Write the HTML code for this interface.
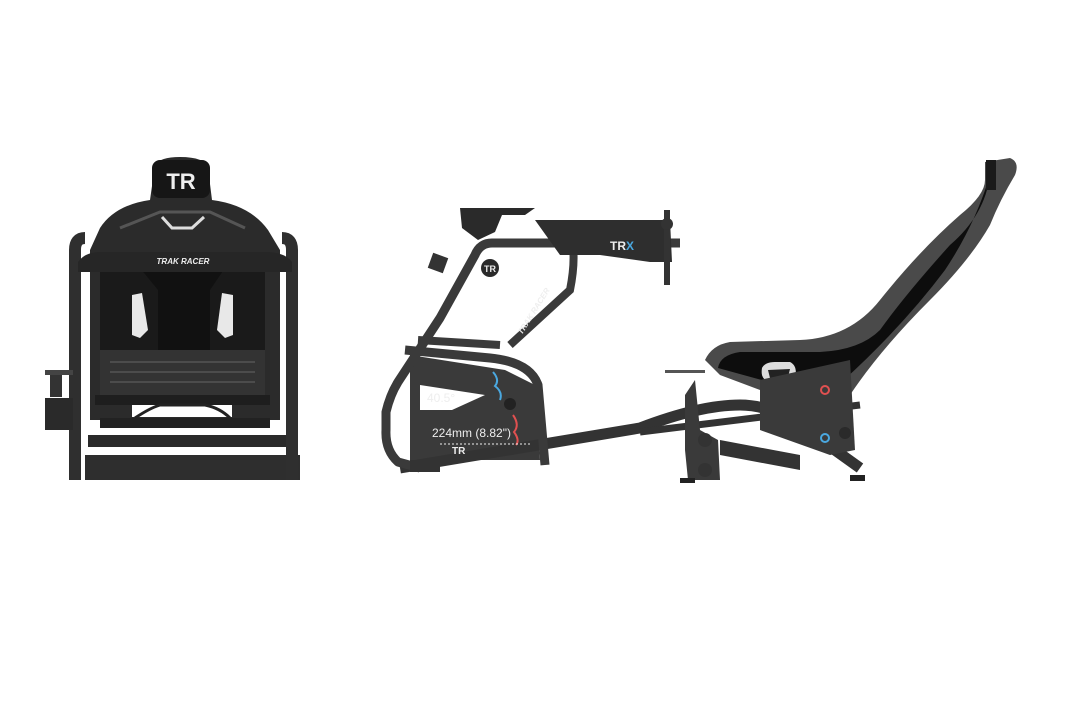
<!DOCTYPE html>
<html><head><meta charset="utf-8"><style>
html,body{margin:0;padding:0;background:#fff;width:1080px;height:720px;overflow:hidden}
svg{display:block}
text{font-family:"Liberation Sans",sans-serif}
</style></head><body>
<svg width="1080" height="720" viewBox="0 0 1080 720" xmlns="http://www.w3.org/2000/svg">
<rect width="1080" height="720" fill="#fff"/>
<!-- FRONT VIEW -->
<g>
  <!-- seat shell -->
  <path d="M155,165 Q160,157 180,157 Q205,157 208,168 L212,200 Q250,205 268,230 L280,250 L280,420 L90,420 L90,250 L100,228 Q115,205 150,200 Z" fill="#2b2b2b"/>
  <rect x="152" y="160" width="58" height="38" rx="8" fill="#161616"/>
  <text x="181" y="189" font-size="22" font-weight="bold" fill="#eee" text-anchor="middle">TR</text>
  <!-- top bracket -->
  <path d="M120,228 L160,212 L210,212 L245,228" stroke="#555" stroke-width="3" fill="none"/>
  <path d="M162,217 L172,228 L192,228 L204,217" stroke="#ddd" stroke-width="3" fill="none"/>
  <!-- seat back -->
  <rect x="100" y="268" width="165" height="90" fill="#1a1a1a"/>
  <path d="M140,268 L225,268 L210,290 L210,350 L158,350 L158,290 Z" fill="#111"/>
  <path d="M132,295 L142,293 L148,330 L140,338 L132,335 Z" fill="#e8e8e8"/>
  <path d="M222,293 L233,295 L233,335 L225,338 L217,330 Z" fill="#e8e8e8"/>
  <!-- seat base -->
  <rect x="100" y="350" width="165" height="45" fill="#333"/>
  <g stroke="#555" stroke-width="1.5"><line x1="110" y1="362" x2="255" y2="362"/><line x1="110" y1="372" x2="255" y2="372"/><line x1="110" y1="382" x2="255" y2="382"/></g>
  <rect x="95" y="395" width="175" height="10" fill="#1e1e1e"/>
  <rect x="132" y="405" width="100" height="12" fill="#fff"/>
  <path d="M135,418 Q150,408 160,405 L205,405 Q220,408 230,418" stroke="#222" stroke-width="3" fill="none"/>
  <rect x="100" y="418" width="170" height="10" fill="#222"/>
  <rect x="88" y="435" width="200" height="12" fill="#2a2a2a"/>
  <rect x="85" y="455" width="215" height="25" fill="#2e2e2e"/>
  <!-- uprights -->
  <path d="M75,480 L75,250 Q75,238 85,238" stroke="#2f2f2f" stroke-width="12" fill="none"/>
  <path d="M292,480 L292,250 Q292,238 282,238" stroke="#2f2f2f" stroke-width="12" fill="none"/>
  <!-- top crossbar -->
  <path d="M78,262 Q85,252 100,252 L265,252 Q285,252 292,262 L292,272 L78,272 Z" fill="#262626"/>
  <text x="183" y="264" font-size="8" font-weight="bold" font-style="italic" fill="#eee" text-anchor="middle">TRAK RACER</text>
  <!-- shifter mount -->
  <rect x="45" y="370" width="28" height="5" fill="#444"/>
  <rect x="50" y="375" width="12" height="22" fill="#333"/>
  <rect x="45" y="398" width="28" height="32" fill="#2a2a2a"/>
</g>
<!-- SIDE VIEW -->
<g>
  <!-- front frame plate -->
  <path d="M410,355 L505,370 L535,385 L540,460 L410,460 Z" fill="#3a3a3a"/>
  <path d="M420,385 L485,395 L452,410 L420,410 Z" fill="#fff"/>
  <!-- base tubes -->
  <path d="M400,468 L640,428 Q700,405 740,405 Q770,405 800,425 L860,468" stroke="#333" stroke-width="11" fill="none" stroke-linejoin="round"/>
  <path d="M640,432 L860,405" stroke="#333" stroke-width="7" fill="none"/>
  <!-- front loop -->
  <path d="M420,468 L398,462 Q385,450 386,430 L386,412 Q390,395 398,382 L440,318 L475,255 Q480,243 492,243 L680,243" stroke="#3a3a3a" stroke-width="9" fill="none" stroke-linejoin="round"/>
  <path d="M405,350 L490,358 Q530,362 538,385 L545,465" stroke="#3a3a3a" stroke-width="9" fill="none"/>
  <path d="M573,247 Q575,265 570,290 L510,345" stroke="#3a3a3a" stroke-width="8" fill="none"/>
  <path d="M418,340 L500,345" stroke="#3a3a3a" stroke-width="8" fill="none"/>
  <!-- top plates -->
  <path d="M460,208 L535,208 L525,215 L502,215 L495,232 L478,240 L462,228 Z" fill="#2a2a2a"/>
  <path d="M535,220 L670,220 L672,262 L650,262 L600,255 L560,255 Z" fill="#2e2e2e"/>
  <rect x="664" y="210" width="6" height="75" fill="#333"/>
  <circle cx="667" cy="224" r="6" fill="#333"/>
  <text x="610" y="250" font-size="12" font-weight="bold" fill="#eee">TR<tspan fill="#4aa8e0">X</tspan></text>
  <circle cx="490" cy="268" r="9" fill="#2a2a2a"/><text x="490" y="272" font-size="9" font-weight="bold" fill="#eee" text-anchor="middle">TR</text>
  <rect x="430" y="255" width="16" height="16" fill="#333" transform="rotate(20 438 263)"/>
  <text x="522" y="335" font-size="8" font-weight="bold" font-style="italic" fill="#eee" transform="rotate(-58 522 335)">TRAK RACER</text>
  <!-- adjust details -->
  <path d="M493,372 Q500,380 495,386 Q503,392 500,400" stroke="#4aa8e0" stroke-width="2" fill="none"/>
  <path d="M513,415 Q520,425 514,432 Q520,440 516,445" stroke="#e05050" stroke-width="2" fill="none"/>
  <circle cx="510" cy="404" r="6" fill="#222"/>
  <text x="427" y="402" font-size="12" fill="#eee">40.5°</text>
  <text x="432" y="437" font-size="12" fill="#eee">224mm (8.82")</text>
  <line x1="440" y1="444" x2="530" y2="444" stroke="#eee" stroke-dasharray="2,2"/>
  <text x="452" y="454" font-size="10" font-weight="bold" fill="#eee">TR</text>
  <rect x="410" y="460" width="30" height="12" fill="#333"/>
  <!-- pedal/mid bracket -->
  <path d="M685,395 L695,380 L700,430 L718,440 L720,480 L688,480 L685,450 Z" fill="#3a3a3a"/>
  <rect x="665" y="370" width="40" height="3" fill="#555"/>
  <circle cx="705" cy="440" r="7" fill="#333"/><circle cx="705" cy="470" r="7" fill="#333"/>
  <path d="M720,440 L800,455 L800,470 L720,455 Z" fill="#333"/>
  <!-- seat -->
  <path d="M985,162 L1010,158 Q1020,162 1015,175 Q1000,200 990,225 Q970,260 930,300 Q880,350 850,395 L780,400 L760,390 L720,375 L705,360 Q712,345 730,342 L800,340 Q850,338 880,300 Q920,250 960,215 Q985,195 985,180 Z" fill="#4a4a4a"/>
  <path d="M990,175 Q985,215 950,245 Q905,295 880,330 Q860,350 820,352 L740,352 Q720,355 718,368 L780,385 L835,388 Q900,330 945,270 Q975,225 990,175 Z" fill="#0d0d0d"/>
  <rect x="986" y="160" width="10" height="30" fill="#1a1a1a"/>
  <path d="M762,368 Q765,362 775,362 L790,362 Q798,366 795,378 L770,382 Q760,380 762,368 Z" fill="#ddd"/>
  <path d="M768,370 L790,369 L788,377 L770,378 Z" fill="#222"/>
  <!-- seat bracket -->
  <path d="M760,380 L850,360 L855,450 L830,455 L760,430 Z" fill="#3a3a3a"/>
  <circle cx="825" cy="390" r="4" fill="none" stroke="#e05050" stroke-width="2"/>
  <circle cx="825" cy="438" r="4" fill="none" stroke="#4aa8e0" stroke-width="2"/>
  <circle cx="845" cy="433" r="6" fill="#2a2a2a"/>
  <rect x="680" y="478" width="15" height="5" fill="#222"/><rect x="850" y="475" width="15" height="6" fill="#222"/>
</g>
</svg>
</body></html>
